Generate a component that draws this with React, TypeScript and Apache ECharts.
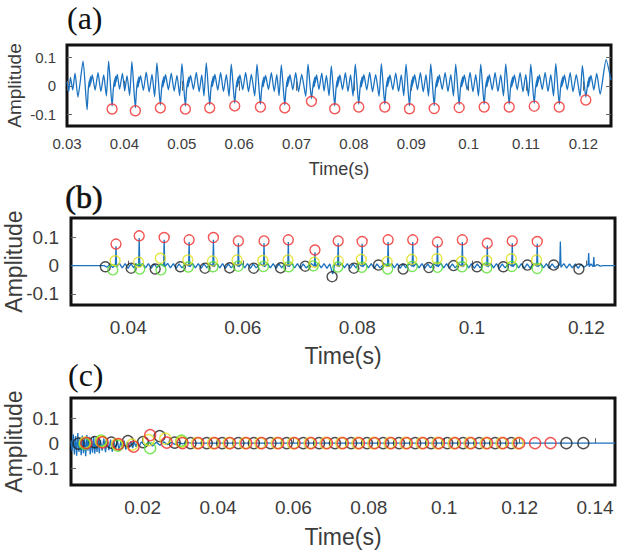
import React, { useEffect, useRef } from "react";
import * as echarts from "echarts";

// ---------- axis ticks ----------
const ticksAX = [0.03, 0.04, 0.05, 0.06, 0.07, 0.08, 0.09, 0.1, 0.11, 0.12];
const ticksBX = [0.04, 0.06, 0.08, 0.1, 0.12];
const ticksCX = [0.02, 0.04, 0.06, 0.08, 0.1, 0.12, 0.14];
const ticksY = [-0.1, 0, 0.1];

// ---------- panel (a): raw signal and detected troughs ----------
const signalA: [number, number][] = [
  [0.03, 0.015], [0.0303, -0.02], [0.0306, 0.03], [0.031, -0.015], [0.0314, 0.045], [0.0319, -0.04], [0.0328, 0.087],
  [0.0335, -0.085], [0.0337, -0.015], [0.0339, 0.018], [0.03395, -0.004], [0.034, 0.026], [0.03405, 0.002], [0.0341, 0.032], [0.03415, 0.01], [0.0344, 0.038], [0.0349, -0.015], [0.0354, 0.046], [0.0359, -0.02], [0.0364, 0.038], [0.03686, -0.036], [0.03726, 0.087],
  [0.03786, -0.072], [0.03806, -0.015], [0.03826, 0.02], [0.03831, -0.003], [0.03836, 0.027], [0.03841, 0.001], [0.03846, 0.033], [0.03851, 0.012], [0.03876, 0.04], [0.03916, -0.012], [0.03966, 0.044], [0.04006, -0.018], [0.04046, 0.036], [0.04091, -0.034], [0.04131, 0.085],
  [0.04191, -0.078], [0.04211, -0.016], [0.04231, 0.017], [0.04236, -0.005], [0.04241, 0.025], [0.04246, 0.0], [0.04251, 0.031], [0.04256, 0.009], [0.04281, 0.036], [0.04331, -0.016], [0.04381, 0.048], [0.04431, -0.022], [0.04481, 0.04], [0.04527, -0.038], [0.04567, 0.081],
  [0.04627, -0.068], [0.04647, -0.014], [0.04667, 0.019], [0.04672, -0.004], [0.04677, 0.027], [0.04682, 0.002], [0.04687, 0.032], [0.04692, 0.011], [0.04717, 0.039], [0.04767, -0.014], [0.04817, 0.045], [0.04867, -0.019], [0.04917, 0.037], [0.04963, -0.035], [0.05003, 0.078],
  [0.05063, -0.072], [0.05083, -0.015], [0.05103, 0.018], [0.05108, -0.004], [0.05113, 0.026], [0.05118, 0.001], [0.05123, 0.031], [0.05128, 0.01], [0.05153, 0.037], [0.05203, -0.013], [0.05253, 0.047], [0.05303, -0.021], [0.05348, 0.038], [0.05387, -0.036], [0.05427, 0.081],
  [0.05487, -0.068], [0.05507, -0.014], [0.05527, 0.018], [0.05532, -0.003], [0.05537, 0.027], [0.05542, 0.002], [0.05547, 0.033], [0.05552, 0.011], [0.05577, 0.04], [0.05627, -0.015], [0.05677, 0.046], [0.05727, -0.02], [0.05777, 0.039], [0.05823, -0.037], [0.05863, 0.076],
  [0.05923, -0.061], [0.05943, -0.013], [0.05963, 0.019], [0.05968, -0.004], [0.05973, 0.026], [0.05978, 0.001], [0.05983, 0.032], [0.05988, 0.01], [0.06013, 0.038], [0.06063, -0.014], [0.06113, 0.047], [0.06163, -0.021], [0.06213, 0.04], [0.06271, -0.036], [0.06311, 0.076],
  [0.06371, -0.065], [0.06391, -0.014], [0.06411, 0.018], [0.06416, -0.004], [0.06421, 0.026], [0.06426, 0.001], [0.06431, 0.031], [0.06436, 0.01], [0.06461, 0.037], [0.06511, -0.013], [0.06561, 0.046], [0.06611, -0.02], [0.06656, 0.039], [0.06695, -0.035], [0.06735, 0.074],
  [0.06795, -0.068], [0.06815, -0.015], [0.06835, 0.019], [0.0684, -0.003], [0.06845, 0.027], [0.0685, 0.002], [0.06855, 0.032], [0.0686, 0.011], [0.06885, 0.039], [0.06935, -0.014], [0.06985, 0.046], [0.07035, -0.021], [0.0709, 0.04], [0.0716, -0.037], [0.072, 0.076],
  [0.0726, -0.045], [0.0728, -0.012], [0.073, 0.018], [0.07305, -0.004], [0.0731, 0.026], [0.07315, 0.001], [0.0732, 0.031], [0.07325, 0.01], [0.0735, 0.038], [0.0739, -0.013], [0.0744, 0.045], [0.0748, -0.019], [0.0752, 0.037], [0.07566, -0.035], [0.07606, 0.07],
  [0.07666, -0.071], [0.07686, -0.015], [0.07706, 0.018], [0.07711, -0.004], [0.07716, 0.027], [0.07721, 0.001], [0.07726, 0.032], [0.07731, 0.01], [0.07756, 0.038], [0.07801, -0.014], [0.07851, 0.046], [0.07896, -0.02], [0.07941, 0.038], [0.07984, -0.036], [0.08024, 0.076],
  [0.08084, -0.065], [0.08104, -0.014], [0.08124, 0.019], [0.08129, -0.004], [0.08134, 0.026], [0.08139, 0.002], [0.08144, 0.032], [0.08149, 0.01], [0.08174, 0.039], [0.08224, -0.015], [0.08274, 0.047], [0.08324, -0.021], [0.08379, 0.039], [0.08438, -0.037], [0.08478, 0.078],
  [0.08538, -0.065], [0.08558, -0.015], [0.08578, 0.018], [0.08583, -0.003], [0.08588, 0.027], [0.08593, 0.001], [0.08598, 0.031], [0.08603, 0.01], [0.08628, 0.038], [0.08678, -0.014], [0.08728, 0.045], [0.08778, -0.02], [0.08825, 0.038], [0.08868, -0.035], [0.08908, 0.076],
  [0.08968, -0.071], [0.08988, -0.015], [0.09008, 0.019], [0.09013, -0.004], [0.09018, 0.026], [0.09023, 0.002], [0.09028, 0.032], [0.09033, 0.011], [0.09058, 0.039], [0.09108, -0.014], [0.09158, 0.046], [0.09208, -0.021], [0.09256, 0.039], [0.09299, -0.036], [0.09339, 0.077],
  [0.09399, -0.07], [0.09419, -0.014], [0.09439, 0.018], [0.09444, -0.004], [0.09449, 0.027], [0.09454, 0.001], [0.09459, 0.032], [0.09464, 0.01], [0.09489, 0.038], [0.09539, -0.013], [0.09589, 0.046], [0.09639, -0.02], [0.09688, 0.039], [0.09734, -0.036], [0.09774, 0.076],
  [0.09834, -0.067], [0.09854, -0.015], [0.09874, 0.019], [0.09879, -0.003], [0.09884, 0.026], [0.09889, 0.002], [0.09894, 0.031], [0.09899, 0.01], [0.09924, 0.038], [0.09974, -0.014], [0.10024, 0.047], [0.10074, -0.021], [0.10123, 0.039], [0.1017, -0.036], [0.1021, 0.076],
  [0.1027, -0.065], [0.1029, -0.014], [0.1031, 0.018], [0.10315, -0.004], [0.1032, 0.027], [0.10325, 0.001], [0.1033, 0.032], [0.10335, 0.011], [0.1036, 0.039], [0.1041, -0.015], [0.1046, 0.046], [0.1051, -0.02], [0.10559, 0.038], [0.10606, -0.036], [0.10646, 0.077],
  [0.10706, -0.065], [0.10726, -0.015], [0.10746, 0.019], [0.10751, -0.004], [0.10756, 0.026], [0.10761, 0.002], [0.10766, 0.031], [0.10771, 0.01], [0.10796, 0.038], [0.10846, -0.014], [0.10896, 0.046], [0.10946, -0.021], [0.10995, 0.039], [0.11042, -0.036], [0.11082, 0.076],
  [0.11142, -0.062], [0.11162, -0.014], [0.11182, 0.018], [0.11187, -0.004], [0.11192, 0.027], [0.11197, 0.001], [0.11202, 0.032], [0.11207, 0.01], [0.11232, 0.038], [0.11282, -0.013], [0.11332, 0.047], [0.11382, -0.02], [0.11431, 0.039], [0.11478, -0.036], [0.11518, 0.078],
  [0.11578, -0.065], [0.11598, -0.015], [0.11618, 0.019], [0.11623, -0.003], [0.11628, 0.026], [0.11633, 0.002], [0.11638, 0.031], [0.11643, 0.01], [0.11668, 0.038], [0.11718, -0.014], [0.11768, 0.046], [0.11818, -0.021], [0.11875, 0.039], [0.11941, -0.037], [0.11981, 0.072],
  [0.12041, -0.04], [0.12061, -0.013], [0.12081, 0.018], [0.12086, -0.004], [0.12091, 0.026], [0.12096, 0.001], [0.12101, 0.031], [0.12106, 0.01], [0.12131, 0.037], [0.12181, -0.015], [0.12231, 0.044], [0.12291, -0.03], [0.12395, 0.092], [0.1248, 0.02],
];

const troughsA: [number, number][] = [
  [0.03786, -0.082], [0.04191, -0.088], [0.04627, -0.078], [0.05063, -0.082], [0.05487, -0.078],
  [0.05923, -0.071], [0.06371, -0.075], [0.06795, -0.078], [0.0726, -0.055], [0.07666, -0.081],
  [0.08084, -0.075], [0.08538, -0.075], [0.08968, -0.081], [0.09399, -0.08], [0.09834, -0.077],
  [0.1027, -0.075], [0.10706, -0.075], [0.11142, -0.072], [0.11578, -0.075], [0.12041, -0.05],
];

// ---------- panel (b): enhanced signal and detected points ----------
const signalB: [number, number][] = [
  [0.03, 0], [0.0358, 0], [0.0363, -0.006], [0.0368, 0.006], [0.0373, -0.007], [0.03776, 0.003],
  [0.03786, 0.068], [0.03796, -0.004], [0.03846, 0.008], [0.03896, -0.008], [0.03946, 0.007], [0.03996, -0.01], [0.04046, 0.006], [0.04096, -0.008], [0.04131, 0.007], [0.04181, -0.002],
  [0.04191, 0.097], [0.04201, -0.004], [0.04251, 0.008], [0.04301, -0.008], [0.04351, 0.007], [0.04401, -0.01], [0.04451, 0.006], [0.04501, -0.008], [0.04567, 0.007], [0.04617, -0.002],
  [0.04627, 0.091], [0.04637, -0.004], [0.04687, 0.008], [0.04737, -0.008], [0.04787, 0.007], [0.04837, -0.01], [0.04887, 0.006], [0.04937, -0.008], [0.05003, 0.007], [0.05053, -0.002],
  [0.05063, 0.083], [0.05073, -0.004], [0.05123, 0.008], [0.05173, -0.008], [0.05223, 0.007], [0.05273, -0.01], [0.05323, 0.006], [0.05373, -0.008], [0.05427, 0.007], [0.05477, -0.002],
  [0.05487, 0.091], [0.05497, -0.004], [0.05547, 0.008], [0.05597, -0.008], [0.05647, 0.007], [0.05697, -0.01], [0.05747, 0.006], [0.05797, -0.008], [0.05863, 0.007], [0.05913, -0.002],
  [0.05923, 0.079], [0.05933, -0.004], [0.05983, 0.008], [0.06033, -0.008], [0.06083, 0.007], [0.06133, -0.01], [0.06183, 0.006], [0.06233, -0.008], [0.06311, 0.007], [0.06361, -0.002],
  [0.06371, 0.079], [0.06381, -0.004], [0.06431, 0.008], [0.06481, -0.008], [0.06531, 0.007], [0.06581, -0.01], [0.06631, 0.006], [0.06681, -0.008], [0.06735, 0.007], [0.06785, -0.002],
  [0.06795, 0.083], [0.06805, -0.004], [0.06855, 0.008], [0.06905, -0.008], [0.06955, 0.007], [0.07005, -0.01], [0.07055, 0.006], [0.07105, -0.008], [0.072, 0.007], [0.0725, -0.002],
  [0.0726, 0.047], [0.0727, -0.004], [0.0732, 0.008], [0.0737, -0.008], [0.0742, 0.007], [0.0747, -0.01], [0.0752, 0.006], [0.0757, -0.03], [0.07606, 0.007], [0.07656, -0.002],
  [0.07666, 0.079], [0.07676, -0.004], [0.07726, 0.008], [0.07776, -0.008], [0.07826, 0.007], [0.07876, -0.01], [0.07926, 0.006], [0.07976, -0.008], [0.08024, 0.007], [0.08074, -0.002],
  [0.08084, 0.077], [0.08094, -0.004], [0.08144, 0.008], [0.08194, -0.008], [0.08244, 0.007], [0.08294, -0.01], [0.08344, 0.006], [0.08394, -0.008], [0.08478, 0.007], [0.08528, -0.002],
  [0.08538, 0.083], [0.08548, -0.004], [0.08598, 0.008], [0.08648, -0.008], [0.08698, 0.007], [0.08748, -0.01], [0.08798, 0.006], [0.08848, -0.008], [0.08908, 0.007], [0.08958, -0.002],
  [0.08968, 0.083], [0.08978, -0.004], [0.09028, 0.008], [0.09078, -0.008], [0.09128, 0.007], [0.09178, -0.01], [0.09228, 0.006], [0.09278, -0.008], [0.09339, 0.007], [0.09389, -0.002],
  [0.09399, 0.075], [0.09409, -0.004], [0.09459, 0.008], [0.09509, -0.008], [0.09559, 0.007], [0.09609, -0.01], [0.09659, 0.006], [0.09709, -0.008], [0.09774, 0.007], [0.09824, -0.002],
  [0.09834, 0.083], [0.09844, -0.004], [0.09894, 0.008], [0.09944, -0.008], [0.09994, 0.007], [0.10044, -0.01], [0.10094, 0.006], [0.10144, -0.008], [0.1021, 0.007], [0.1026, -0.002],
  [0.1027, 0.071], [0.1028, -0.004], [0.1033, 0.008], [0.1038, -0.008], [0.1043, 0.007], [0.1048, -0.01], [0.1053, 0.006], [0.1058, -0.008], [0.10646, 0.007], [0.10696, -0.002],
  [0.10706, 0.079], [0.10716, -0.004], [0.10766, 0.008], [0.10816, -0.008], [0.10866, 0.007], [0.10916, -0.01], [0.10966, 0.006], [0.11016, -0.008], [0.11082, 0.007], [0.11132, -0.002],
  [0.11142, 0.077], [0.11152, -0.004], [0.11202, 0.008], [0.11252, -0.008], [0.11302, 0.007], [0.11352, -0.01], [0.11402, 0.006], [0.11452, -0.008], [0.11536, 0.004],
  [0.11546, 0.085], [0.11556, -0.006], [0.11606, 0.007], [0.11656, -0.009], [0.11706, 0.006], [0.11756, -0.008], [0.11806, 0.006], [0.11856, -0.01], [0.11906, 0.005], [0.11956, -0.006], [0.1203, 0.004],
  [0.1204, 0.044], [0.1205, -0.004], [0.1208, 0.006], [0.1212, -0.004], [0.1213, 0.03], [0.1214, -0.003], [0.1219, 0.004], [0.1224, -0.002], [0.1229, 0], [0.125, 0],
];

const peaksB: [number, number][] = [
  [0.03786, 0.076], [0.04191, 0.105], [0.04627, 0.099], [0.05063, 0.091], [0.05487, 0.099], [0.05923, 0.087],
  [0.06371, 0.087], [0.06795, 0.091], [0.0726, 0.055], [0.07666, 0.087], [0.08084, 0.085], [0.08538, 0.091],
  [0.08968, 0.091], [0.09399, 0.083], [0.09834, 0.091], [0.1027, 0.079], [0.10706, 0.087], [0.11142, 0.085],
];
const onsetsB: [number, number][] = [
  [0.036, -0.004], [0.0405, -0.009], [0.0447, -0.012], [0.0491, -0.004], [0.0534, -0.009], [0.0577, -0.008],
  [0.0619, -0.009], [0.0666, -0.008], [0.0709, -0.002], [0.0756, -0.039], [0.0794, -0.009], [0.0837, 0.002],
  [0.088, -0.012], [0.0925, -0.007], [0.0968, 0.0], [0.1009, -0.004], [0.1055, -0.004], [0.1097, 0.002],
  [0.1143, 0.002], [0.1187, -0.012],
];
const lowB: [number, number][] = [
  [0.0373, -0.015], [0.042, -0.012], [0.0457, -0.015], [0.0505, -0.005], [0.0548, -0.004], [0.0592, -0.002],
  [0.0636, -0.003], [0.068, -0.004], [0.0723, -0.001], [0.0766, -0.005], [0.0808, -0.006], [0.0853, -0.012],
  [0.0896, -0.003], [0.094, -0.006], [0.0983, -0.004], [0.1026, -0.008], [0.107, -0.003], [0.1114, -0.01],
];
const highB: [number, number][] = [
  [0.0377, 0.017], [0.0418, 0.012], [0.0456, 0.026], [0.0504, 0.02], [0.0547, 0.016], [0.059, 0.02],
  [0.0635, 0.018], [0.0679, 0.02], [0.0725, 0.012], [0.0767, 0.016], [0.0807, 0.022], [0.0852, 0.014],
  [0.0895, 0.022], [0.0939, 0.024], [0.0982, 0.015], [0.1026, 0.018], [0.1069, 0.024], [0.1113, 0.02],
];

// ---------- panel (c): residual signal and detected points ----------
const signalC: [number, number][] = [
  [0.001, 0.01], [0.0013, -0.03], [0.0016, 0.035], [0.0019, -0.045], [0.0022, 0.028], [0.0025, -0.05], [0.0028, 0.04],
  [0.0031, -0.035], [0.0034, 0.022], [0.0037, -0.048], [0.004, 0.03], [0.0043, -0.04], [0.0046, 0.018], [0.0049, -0.052],
  [0.0052, 0.032], [0.0055, -0.03], [0.0058, 0.025], [0.0061, -0.045], [0.0064, 0.02], [0.0067, -0.038], [0.007, 0.028],
  [0.0073, -0.042], [0.0076, 0.015], [0.0079, -0.035], [0.0082, 0.022], [0.0085, -0.04], [0.0088, 0.012], [0.00925, -0.03],
  [0.0097, 0.018], [0.01015, -0.036], [0.0106, 0.01], [0.01105, -0.028], [0.0115, 0.014], [0.01195, -0.034], [0.0124, 0.008],
  [0.01285, -0.025], [0.0133, 0.012], [0.01375, -0.03], [0.0142, 0.006], [0.01465, -0.022], [0.0151, 0.01], [0.01555, -0.026],
  [0.016, 0.005], [0.01645, -0.018], [0.0169, 0.008], [0.01735, -0.02], [0.0178, 0.004], [0.01825, -0.015], [0.0187, 0.006],
  [0.01915, -0.012], [0.0196, 0.005], [0.0206, -0.01], [0.0216, 0.006], [0.0226, -0.012], [0.0236, 0.004], [0.0246, -0.008],
  [0.0256, 0.005], [0.0266, -0.006], [0.0276, 0.003], [0.0286, -0.005], [0.0296, 0.003], [0.0306, -0.003], [0.0316, 0.002],
  [0.033, 0], [0.1453, 0],
];

const peaksC: [number, number][] = [
  [0.0051, 0.0], [0.0094, 0.003], [0.0136, -0.004], [0.0176, -0.014], [0.022, 0.032], [0.0264, 0.002],
  [0.0306, 0], [0.0348, 0], [0.0391, 0], [0.0432, 0], [0.0475, 0], [0.0516, 0], [0.056, 0], [0.0603, 0],
  [0.0647, 0], [0.0689, 0], [0.0731, 0], [0.0774, 0], [0.0816, 0], [0.0859, 0], [0.0901, 0], [0.0944, 0],
  [0.0986, 0], [0.1029, 0], [0.1071, 0], [0.1114, 0], [0.1156, 0], [0.1199, 0], [0.1241, 0], [0.1282, 0],
];
const onsetsC: [number, number][] = [
  [0.003, -0.002], [0.0073, 0.004], [0.0117, 0.002], [0.0161, 0.008], [0.0201, 0.004], [0.0245, 0.028],
  [0.0285, 0.002], [0.0327, 0], [0.037, 0], [0.0411, 0], [0.0454, 0], [0.0495, 0], [0.0539, 0], [0.0582, 0],
  [0.0626, 0], [0.0668, 0], [0.071, 0], [0.0753, 0], [0.0795, 0], [0.0838, 0], [0.088, 0], [0.0923, 0],
  [0.0965, 0], [0.1008, 0], [0.105, 0], [0.1093, 0], [0.1135, 0], [0.1178, 0], [0.1324, 0], [0.1369, 0],
];
const lowC: [number, number][] = [
  [0.0046, -0.003], [0.009, 0.01], [0.0134, -0.01], [0.022, -0.02], [0.0303, 0.01],
];
const highC: [number, number][] = [
  [0.0047, 0.002], [0.009, 0.006], [0.0132, -0.004], [0.0172, -0.006], [0.0216, 0.012], [0.026, 0.018],
  [0.0302, 0.004], [0.0344, 0], [0.0387, 0], [0.0428, 0], [0.0471, 0], [0.0512, 0], [0.0556, 0], [0.0599, 0],
  [0.0643, 0], [0.0685, 0], [0.0727, 0], [0.077, 0], [0.0812, 0], [0.0855, 0], [0.0897, 0], [0.094, 0],
  [0.0982, 0], [0.1025, 0], [0.1067, 0], [0.111, 0], [0.1152, 0], [0.1195, 0],
];

// ---------- styling ----------
const SANS = "'Liberation Sans', Arial, Helvetica, sans-serif";
const SERIF = "'Liberation Serif', 'Times New Roman', serif";
const TEXT = "#3c3c3c";
const BLUE = "#1a72c0";
const RED = "#f02a2a";
const BLACK = "#222222";
const GREEN = "#58e030";
const YELLOW = "#dede1a";

const fmt = (v: number) => `${parseFloat(v.toFixed(4))}`;

function xAxisFor(grid: number, min: number, max: number, ticks: number[], fs: number, nfs: number, margin: number, gap: number) {
  return {
    type: "value", gridIndex: grid, min, max, position: "bottom",
    name: "Time(s)", nameLocation: "middle", nameGap: gap, nameMoveOverlap: false,
    nameTextStyle: { fontFamily: SANS, fontSize: nfs, color: TEXT },
    axisLine: { show: false },
    axisTick: { show: true, inside: true, length: 5, customValues: ticks, lineStyle: { color: "#666", width: 1 } },
    axisLabel: { customValues: ticks, formatter: fmt, margin, fontFamily: SANS, fontSize: fs, color: TEXT },
    splitLine: { show: false },
  };
}

function yAxisFor(grid: number, min: number, max: number, fs: number, nfs: number, margin: number, gap: number) {
  return {
    type: "value", gridIndex: grid, min, max, position: "left",
    name: "Amplitude", nameLocation: "middle", nameGap: gap, nameMoveOverlap: false,
    nameTextStyle: { fontFamily: SANS, fontSize: nfs, color: TEXT },
    axisLine: { show: false },
    axisTick: { show: true, inside: true, length: 5, customValues: ticksY, lineStyle: { color: "#666", width: 1 } },
    axisLabel: { customValues: ticksY, formatter: fmt, margin, fontFamily: SANS, fontSize: fs, color: TEXT },
    splitLine: { show: false },
  };
}

function circles(data: [number, number][], axis: number, color: string, size: number, z: number) {
  return {
    type: "scatter", xAxisIndex: axis, yAxisIndex: axis, data, symbol: "circle", symbolSize: size, z,
    silent: true,
    itemStyle: { color: "rgba(0,0,0,0)", borderColor: color, borderWidth: 1.4 },
    emphasis: { disabled: true },
  };
}

function trace(data: [number, number][], axis: number, smooth: number | boolean = false) {
  return {
    type: "line", xAxisIndex: axis, yAxisIndex: axis, data, showSymbol: false, symbol: "none",
    smooth, silent: true, z: 2, lineStyle: { color: BLUE, width: 1.3 },
  };
}

const gridBase = { show: true, borderColor: "#111", borderWidth: 3, backgroundColor: "#fff", containLabel: false, outerBoundsMode: "none" };

export default function App() {
  const ref = useRef<HTMLDivElement>(null);

  useEffect(() => {
    if (!ref.current) return;
    const chart = echarts.init(ref.current, undefined, { renderer: "svg" });
    chart.setOption({
      animation: false,
      backgroundColor: "#fff",
      grid: [
        { ...gridBase, left: 67, top: 45, width: 544, height: 81 },
        { ...gridBase, left: 71, top: 218, width: 544, height: 87 },
        { ...gridBase, left: 71, top: 398, width: 544, height: 87 },
        { ...gridBase, show: false, left: 67, top: 45, width: 544, height: 81 },
      ],
      xAxis: [
        xAxisFor(0, 0.03, 0.1248, ticksAX, 15, 18, 10, 34),
        xAxisFor(1, 0.03, 0.125, ticksBX, 19, 23, 13, 39),
        xAxisFor(2, 0.001, 0.1453, ticksCX, 19, 23, 13, 40),
        {
          type: "value", gridIndex: 3, min: 0.03, max: 0.1248, position: "top",
          axisLine: { show: false }, axisLabel: { show: false }, splitLine: { show: false },
          axisTick: { show: true, inside: true, length: 5, customValues: ticksAX, lineStyle: { color: "#666", width: 1 } },
        },
      ],
      yAxis: [
        yAxisFor(0, -0.142, 0.144, 15, 19, 11, 43),
        yAxisFor(1, -0.139, 0.168, 19, 23, 12, 46),
        yAxisFor(2, -0.167, 0.18, 19, 23, 12, 46),
        {
          type: "value", gridIndex: 3, min: -0.142, max: 0.144, position: "right",
          axisLine: { show: false }, axisLabel: { show: false }, splitLine: { show: false },
          axisTick: { show: true, inside: true, length: 5, customValues: ticksY, lineStyle: { color: "#666", width: 1 } },
        },
      ],
      series: [
        trace(signalA, 0, 0.2),
        circles(troughsA, 0, RED, 10, 5),
        trace(signalB, 1),
        circles(peaksB, 1, RED, 10, 5),
        circles(onsetsB, 1, BLACK, 10, 6),
        circles(lowB, 1, GREEN, 10, 7),
        circles(highB, 1, YELLOW, 10, 8),
        trace(signalC, 2),
        circles(onsetsC, 2, BLACK, 11, 5),
        circles(lowC, 2, GREEN, 11, 6),
        circles(highC, 2, YELLOW, 11, 7),
        circles(peaksC, 2, RED, 11, 8),
      ],
      graphic: [
        { type: "text", left: 67, top: 2, style: { text: "(a)", font: `32px ${SERIF}`, fill: "#111" } },
        { type: "text", left: 65, top: 181, style: { text: "(b)", font: `32px ${SERIF}`, fill: "#111", stroke: "#111", lineWidth: 0.6 } },
        { type: "text", left: 68, top: 359, style: { text: "(c)", font: `32px ${SERIF}`, fill: "#111" } },
      ],
    });
    return () => chart.dispose();
  }, []);

  return <div ref={ref} style={{ position: "absolute", left: 0, top: 0, width: 635, height: 553 }} />;
}
